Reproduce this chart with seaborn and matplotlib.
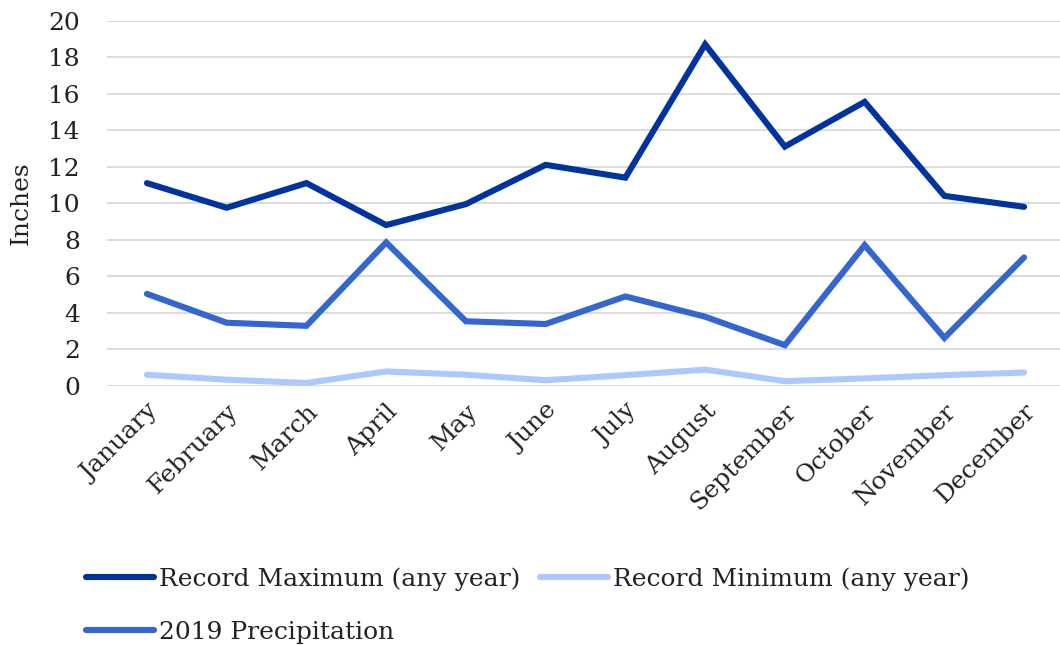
import pandas as pd
import matplotlib.pyplot as plt
import seaborn as sns

# ── Data (inches) ───────────────────────────────────────────────────────────
months = ["January", "February", "March", "April", "May", "June",
          "July", "August", "September", "October", "November", "December"]
record_max = [11.1, 9.75, 11.1, 8.8, 9.95, 12.1, 11.4, 18.7, 13.1, 15.55, 10.4, 9.8]
record_min = [0.6, 0.33, 0.15, 0.78, 0.6, 0.3, 0.58, 0.88, 0.25, 0.4, 0.58, 0.72]
precip_2019 = [5.03, 3.45, 3.28, 7.85, 3.53, 3.38, 4.89, 3.78, 2.22, 7.7, 2.62, 7.03]

series_names = ["Record Maximum (any year)", "Record Minimum (any year)",
                "2019 Precipitation"]
colors = ["#0033A0", "#ADC8FF", "#3366D1"]

df = pd.DataFrame({
    "month": months * 3,
    "inches": record_max + record_min + precip_2019,
    "series": [s for s in series_names for _ in months],
})

# ── Style ──────────────────────────────────────────────────────────────────
sns.set_theme(style="white")
plt.rcParams["font.family"] = ["DejaVu Serif"]

fig = plt.figure(figsize=(10.6, 6.45), dpi=100)
ax = fig.add_axes([0.101, 0.402, 0.899, 0.566])

sns.lineplot(
    data=df, x="month", y="inches", hue="series", hue_order=series_names,
    palette=colors, linewidth=4.4, ax=ax, sort=False,
)
for line in ax.get_lines():
    line.set_solid_capstyle("round")
    line.set_solid_joinstyle("miter")

ax.set_xlim(-0.5, 11.45)
ax.set_ylim(0, 20)
ax.set_yticks(range(0, 21, 2))
ax.yaxis.grid(True, color="#D9D9D9", linewidth=1.3)
ax.set_axisbelow(True)
for s in ax.spines.values():
    s.set_visible(False)

ax.tick_params(axis="y", labelsize=18, pad=19.5, length=0, colors="#222222")
ax.tick_params(axis="x", labelsize=18, length=0, pad=10, colors="#222222")
plt.setp(ax.get_xticklabels(), rotation=45, ha="right", rotation_mode="anchor")
ax.set_xlabel("")
ax.set_ylabel("Inches", fontsize=18, color="#222222", labelpad=11)

# legend below, filled row-wise: Max, Min / Precip
handles, labels = ax.get_legend_handles_labels()
ax.legend_.remove()
order = [0, 2, 1]
fig.legend(
    [handles[i] for i in order], [labels[i] for i in order],
    loc="upper left", bbox_to_anchor=(0.081, 0.12),
    ncol=2, frameon=False, fontsize=18, handlelength=2.72, handletextpad=0.2,
    columnspacing=0.8, labelspacing=1.18, borderpad=0, borderaxespad=0,
    labelcolor="#222222",
)

plt.savefig("out.png", dpi=100)
